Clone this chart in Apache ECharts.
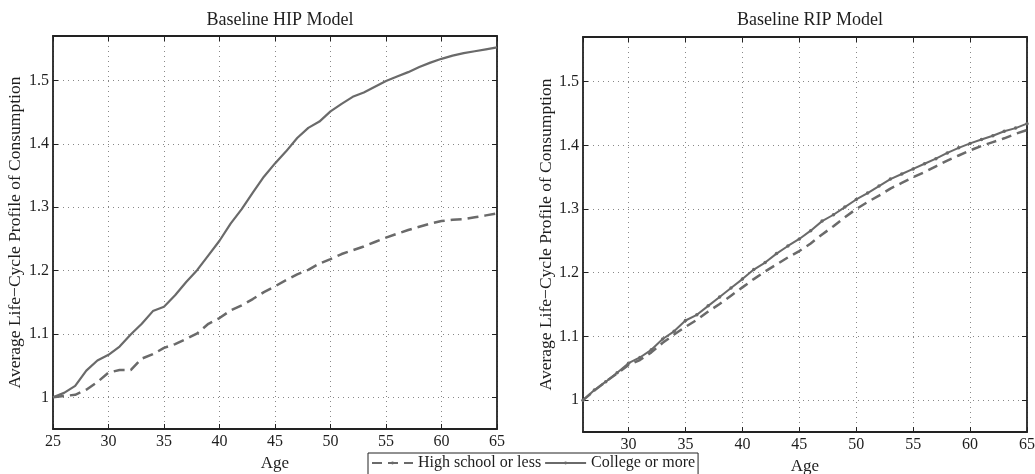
<!DOCTYPE html>
<html>
<head>
<meta charset="utf-8">
<script src="https://cdn.jsdelivr.net/npm/echarts@6/dist/echarts.min.js"></script>
<style>html,body{margin:0;padding:0;background:#fff}#c{width:1035px;height:474px}</style>
</head>
<body>
<div id="c"></div>
<script>
// ---- data ----
const hipAges = [25,26,27,28,29,30,31,32,33,34,35,36,37,38,39,40,41,42,43,44,45,46,47,48,49,50,51,52,53,54,55,56,57,58,59,60,61,62,63,64,65];
const hipHighSchool = [1.000,1.002,1.004,1.012,1.024,1.039,1.043,1.043,1.061,1.068,1.078,1.084,1.092,1.101,1.116,1.125,1.137,1.145,1.155,1.166,1.175,1.185,1.194,1.201,1.211,1.218,1.226,1.232,1.238,1.245,1.252,1.258,1.264,1.269,1.274,1.278,1.280,1.281,1.284,1.287,1.290];
const hipCollege = [1.000,1.007,1.018,1.042,1.058,1.067,1.080,1.099,1.116,1.136,1.143,1.161,1.182,1.201,1.224,1.247,1.274,1.297,1.323,1.348,1.369,1.388,1.409,1.425,1.435,1.451,1.463,1.474,1.481,1.490,1.499,1.506,1.513,1.521,1.528,1.534,1.539,1.543,1.546,1.549,1.552];

const ripAges = [26,27,28,29,30,31,32,33,34,35,36,37,38,39,40,41,42,43,44,45,46,47,48,49,50,51,52,53,54,55,56,57,58,59,60,61,62,63,64,65];
const ripHighSchool = [1.000,1.015,1.029,1.042,1.055,1.063,1.075,1.090,1.103,1.115,1.126,1.139,1.151,1.164,1.177,1.190,1.202,1.213,1.224,1.234,1.246,1.260,1.273,1.287,1.300,1.311,1.321,1.332,1.341,1.350,1.358,1.367,1.376,1.384,1.392,1.399,1.405,1.411,1.418,1.424];
const ripCollege = [1.000,1.016,1.029,1.043,1.058,1.067,1.079,1.096,1.108,1.125,1.134,1.148,1.162,1.176,1.190,1.205,1.216,1.230,1.242,1.253,1.266,1.281,1.291,1.303,1.315,1.325,1.336,1.347,1.355,1.363,1.371,1.379,1.388,1.396,1.403,1.409,1.415,1.422,1.427,1.434];

const titles = ['Baseline HIP Model','Baseline RIP Model'];
const seriesNames = ['High school or less','College or more'];
const xName = 'Age';
const yName = 'Average Life\u2212Cycle Profile of Consumption';

// ---- chart ----
const FONT = 'Liberation Serif';
const LINE = '#6a6a6a';
const TXT = '#1e1e1e';
const pairs = (xs, ys) => xs.map((x, i) => [x, ys[i]]);

const gridLines = {show: true, lineStyle: {color: '#888', type: [1, 4], width: 1}};
const axLine = {show: true, onZero: false, lineStyle: {color: '#222', width: 1.8}};
const tick = {show: true, inside: true, length: 5, lineStyle: {color: '#222', width: 1}};
const lbl = {color: TXT, fontFamily: FONT, fontSize: 16, showMinLabel: false, showMaxLabel: false};

function xAx(grid, min, max, extra) {
  return Object.assign({
    type: 'value', gridIndex: grid, min: min, max: max, position: 'bottom',
    axisLine: axLine, axisTick: tick, splitLine: gridLines,
    axisLabel: Object.assign({}, lbl, {margin: 5, showMinLabel: min % 5 === 0, showMaxLabel: true}),
    name: xName, nameLocation: 'middle',
    nameTextStyle: {color: TXT, fontFamily: FONT, fontSize: 17}
  }, extra);
}
function xTop(grid, min, max, extra) {
  return Object.assign({
    type: 'value', gridIndex: grid, min: min, max: max, position: 'top',
    axisLine: axLine, axisTick: tick, splitLine: {show: false}, axisLabel: {show: false}
  }, extra);
}
function yAx(grid, gap) {
  return {
    type: 'value', gridIndex: grid, min: 0.95, max: 1.57, position: 'left',
    axisLine: axLine, axisTick: tick, splitLine: gridLines,
    axisLabel: Object.assign({}, lbl, {margin: 4}),
    name: yName, nameLocation: 'middle', nameGap: gap,
    nameTextStyle: {color: TXT, fontFamily: FONT, fontSize: 17.5}
  };
}
function yRight(grid) {
  return {
    type: 'value', gridIndex: grid, min: 0.95, max: 1.57, position: 'right',
    axisLine: axLine, axisTick: tick, splitLine: {show: false}, axisLabel: {show: false}
  };
}

const option = {
  animation: false,
  backgroundColor: '#fff',
  title: [
    {text: titles[0], left: 275, top: 6, textAlign: 'center',
     textStyle: {fontFamily: FONT, fontSize: 18, fontWeight: 'normal', color: TXT}},
    {text: titles[1], left: 805, top: 6, textAlign: 'center',
     textStyle: {fontFamily: FONT, fontSize: 18, fontWeight: 'normal', color: TXT}}
  ],
  grid: [
    {left: 53, top: 36, width: 444, height: 393, outerBoundsMode: 'none'},
    {left: 583, top: 37, width: 444, height: 395, outerBoundsMode: 'none'}
  ],
  xAxis: [
    xAx(0, 25, 65, {interval: 5, nameGap: 19}),
    xAx(1, 26, 65, {splitNumber: 8, nameGap: 20}),
    xTop(0, 25, 65, {interval: 5}),
    xTop(1, 26, 65, {splitNumber: 8})
  ],
  yAxis: [yAx(0, 29), yAx(1, 27), yRight(0), yRight(1)],
  legend: {
    left: 368, top: 453,
    orient: 'horizontal',
    padding: [2, 3, 6, 3],
    itemGap: 3,
    itemWidth: 41, itemHeight: 3.5,
    borderColor: '#222', borderWidth: 1,
    backgroundColor: '#fff',
    textStyle: {fontFamily: FONT, fontSize: 16, color: TXT},
    data: seriesNames
  },
  series: [
    {name: seriesNames[0], type: 'line', xAxisIndex: 1, yAxisIndex: 1,
     data: pairs(ripAges, ripHighSchool), symbol: 'none', z: 3,
     lineStyle: {color: LINE, width: 2.5, type: [10, 6]}, itemStyle: {color: LINE}},
    {name: seriesNames[1], type: 'line', xAxisIndex: 1, yAxisIndex: 1,
     data: pairs(ripAges, ripCollege), symbol: 'circle', symbolSize: 3.5, showSymbol: true, z: 4,
     lineStyle: {color: LINE, width: 2}, itemStyle: {color: LINE}},
    {name: seriesNames[0], type: 'line', xAxisIndex: 0, yAxisIndex: 0,
     data: pairs(hipAges, hipHighSchool), symbol: 'none',
     lineStyle: {color: LINE, width: 2.5, type: [11, 6]}, itemStyle: {color: LINE}},
    {name: seriesNames[1], type: 'line', xAxisIndex: 0, yAxisIndex: 0,
     data: pairs(hipAges, hipCollege), symbol: 'none',
     lineStyle: {color: LINE, width: 2.2}, itemStyle: {color: LINE}}
  ]
};

const chart = echarts.init(document.getElementById('c'), null, {renderer: 'canvas'});
chart.setOption(option);
</script>
</body>
</html>
